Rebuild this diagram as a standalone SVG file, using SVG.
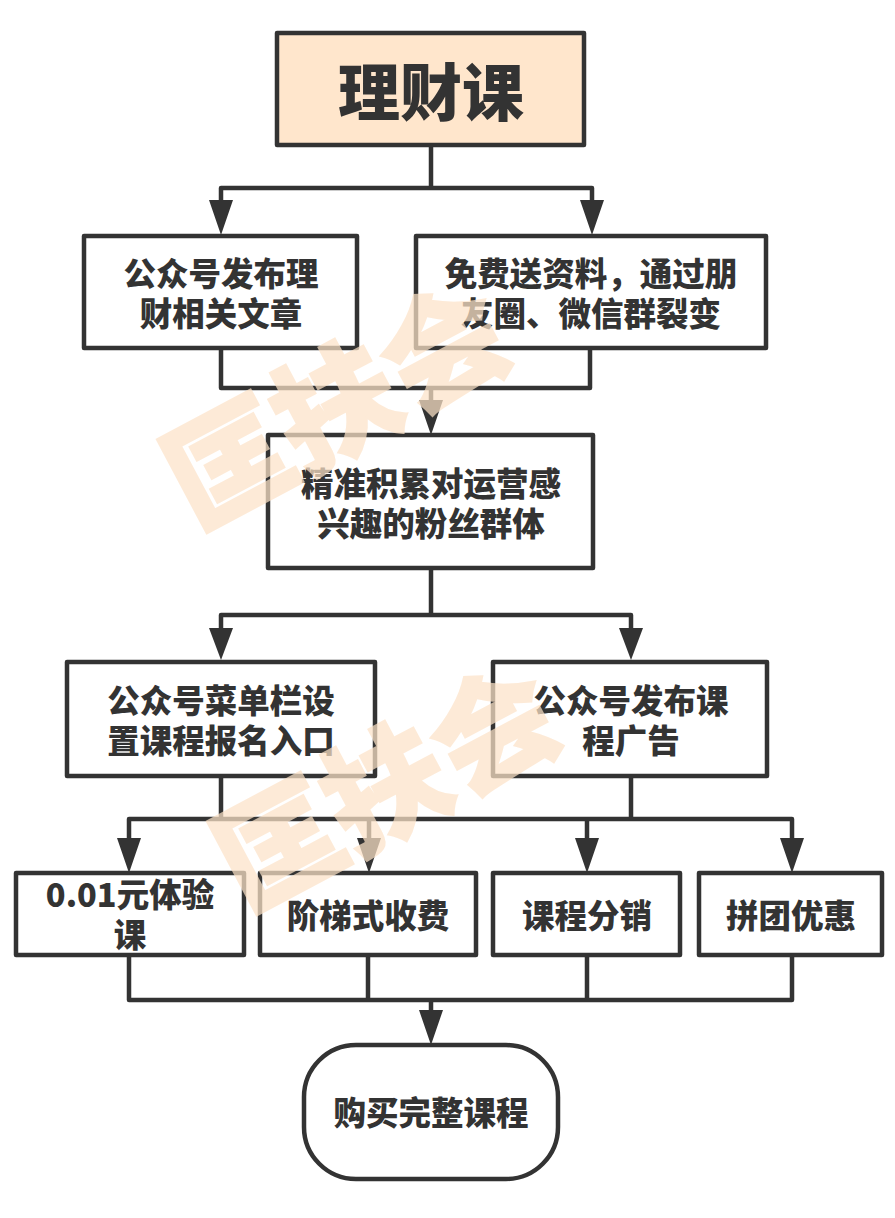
<svg xmlns="http://www.w3.org/2000/svg" width="895" height="1218" viewBox="0 0 895 1218">
<style>
.n{fill:#fff;stroke:#333;stroke-width:4.5;stroke-linejoin:round}
.c{fill:none;stroke:#333;stroke-width:4.5;stroke-linejoin:round}
text{font-family:"Noto Sans CJK SC","Liberation Sans",sans-serif;font-weight:900;fill:#333;text-anchor:middle;font-size:32.5px}
.w{font-size:122px;font-weight:900;fill:#fde3c8;opacity:.72;stroke:#fde3c8;stroke-width:2.5}
</style>
<rect width="895" height="1218" fill="#fff"/>
<g id="connectors">
<path class="c" d="M431 145V188"/>
<path class="c" d="M221 206V188H592V206"/>
<path class="c" d="M221 348V388H590V348M431 388V404"/>
<path class="c" d="M431 568V615"/>
<path class="c" d="M221 634V615H631V634"/>
<path class="c" d="M221 776V819M631 776V819"/>
<path class="c" d="M129 840V819H792V840M369 819V840M587 819V840"/>
<path class="c" d="M129 955V1000H792V955M368 955V1000M587 955V1000M431 1000V1012"/>
<path fill="#333" d="M209 200H233L221 235ZM580 200H604L592 235ZM419 400H443L431 435ZM209 628H233L221 660ZM619 628H643L631 660ZM117 838H141L129 873ZM357 838H381L369 873ZM575 838H599L587 873ZM780 838H804L792 873ZM419 1010H443L431 1045Z"/>
</g>
<g id="n0"><rect class="n" x="277" y="33" width="307" height="112" style="fill:#ffe6cc"/><text x="431" y="116" style="font-size:62px">理财课</text></g>
<g id="n1"><rect class="n" x="84" y="236" width="273" height="112"/><text x="221" y="286">公众号发布理<tspan x="221" dy="40">财相关文章</tspan></text></g>
<g id="n2"><rect class="n" x="416" y="236" width="350" height="112"/><text x="591" y="286">免费送资料，通过朋<tspan x="591" dy="40">友圈、微信群裂变</tspan></text></g>
<g id="n3"><rect class="n" x="268" y="435" width="325" height="133"/><text x="431" y="496">精准积累对运营感<tspan x="431" dy="40">兴趣的粉丝群体</tspan></text></g>
<g id="n4"><rect class="n" x="67" y="662" width="308" height="114"/><text x="221" y="713">公众号菜单栏设<tspan x="221" dy="40">置课程报名入口</tspan></text></g>
<g id="n5"><rect class="n" x="493" y="662" width="274" height="114"/><text x="631" y="713">公众号发布课<tspan x="631" dy="40">程广告</tspan></text></g>
<g id="n6"><rect class="n" x="16" y="873" width="228" height="82"/><text x="130" y="907">0.01元体验<tspan x="130" dy="40">课</tspan></text></g>
<g id="n7"><rect class="n" x="260" y="873" width="216" height="82"/><text x="368" y="928">阶梯式收费</text></g>
<g id="n8"><rect class="n" x="493" y="873" width="187" height="82"/><text x="587" y="928">课程分销</text></g>
<g id="n9"><rect class="n" x="699" y="873" width="183" height="82"/><text x="791" y="928">拼团优惠</text></g>
<g id="n10"><rect class="n" x="304" y="1045" width="254" height="134" rx="52" ry="52"/><text x="431" y="1125">购买完整课程</text></g>
<g id="watermark"><text class="w" transform="translate(357 445) rotate(-28)">匡扶会</text><text class="w" transform="translate(407 827) rotate(-28)">匡扶会</text></g>
</svg>
